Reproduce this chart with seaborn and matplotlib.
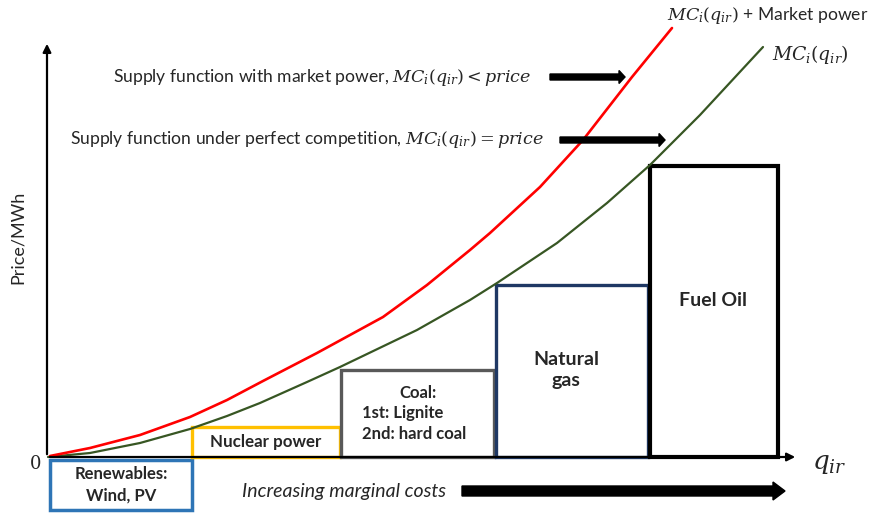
import matplotlib
matplotlib.use("Agg")
import matplotlib.pyplot as plt
import seaborn as sns
import pandas as pd

sns.set_theme(style="white")
plt.rcParams['font.family'] = ['Lato', 'DejaVu Sans']
plt.rcParams['mathtext.fontset'] = 'dejavuserif'

# Curves: quantity vs price (diagram units)
q_mc = [0, 42, 92, 142, 179, 212, 259, 292, 369, 422, 449, 509, 559, 602, 652, 715]
p_mc = [0, 4, 14, 28, 41, 54, 75, 90, 127, 157, 174, 214, 254, 292, 342, 410]
q_mp = [2, 42, 92, 142, 179, 215, 269, 335, 379, 422, 442, 492, 535, 584, 624]
p_mp = [1, 9, 22, 40, 57, 76, 104, 140, 172, 207, 224, 270, 317, 380, 429]

# Technology blocks
tech_names = ["Renewables:\nWind, PV", "Nuclear power", "Coal", "Natural\ngas", "Fuel Oil"]
tech_start = [2, 144, 293, 448, 602]
tech_end = [144, 292, 446, 600, 730]
tech_bottom = [-53, 0, 0, 0, 0]
tech_top = [-3, 30, 87, 172, 291]
tech_colors = ["#2e75b6", "#ffc000", "#595959", "#1f3864", "#000000"]
tech_lw = [2.5, 2.4, 2.4, 2.4, 3.0]

fig = plt.figure(figsize=(8.77, 5.13), dpi=100)
ax = fig.add_axes([0, 0, 1, 1])
ax.set_xlim(-48, 829)
ax.set_ylim(-56, 457)
ax.axis("off")

# blocks
for s, e, b, t, c, lw in zip(tech_start, tech_end, tech_bottom, tech_top, tech_colors, tech_lw):
    ax.bar(s, t - b, width=e - s, bottom=b, align="edge", facecolor="white",
           edgecolor=c, linewidth=lw, zorder=2)

# curves
df_mc = pd.DataFrame({"q": q_mc, "p": p_mc})
df_mp = pd.DataFrame({"q": q_mp, "p": p_mp})
sns.lineplot(data=df_mc, x="q", y="p", ax=ax, color="#375623", linewidth=1.6, sort=False, zorder=4)
sns.lineplot(data=df_mp, x="q", y="p", ax=ax, color="#ff0000", linewidth=1.9, sort=False, zorder=4)
for l in ax.lines:
    l.set_solid_joinstyle("round")
ax.set_xlabel("")
ax.set_ylabel("")

# axes arrows
ax.annotate("", xy=(-1, 416), xytext=(-1, 0),
            arrowprops=dict(arrowstyle="-|>", color="black", lw=1.6, mutation_scale=12), zorder=5)
ax.annotate("", xy=(750, 0), xytext=(-1, 0),
            arrowprops=dict(arrowstyle="-|>", color="black", lw=1.6, mutation_scale=12), zorder=5)

# thick arrows
def fat_arrow(x0, x1, y, w=5, hw=12, hl=8):
    ax.arrow(x0, y, x1 - x0 - hl, 0, width=w, head_width=hw, head_length=hl,
             length_includes_head=False, color="black", zorder=5)

fat_arrow(502, 577, 380, w=6, hw=13, hl=6)
fat_arrow(512, 617, 317, w=6, hw=13, hl=6)
fat_arrow(414, 737, -34, w=10, hw=18, hl=12)

fs = 12.6
ax.text(65, 380, r"Supply function with market power, $MC_i(q_{ir}) < price$",
        fontsize=fs, va="center", ha="left")
ax.text(22, 317, r"Supply function under perfect competition, $MC_i(q_{ir}) = price$",
        fontsize=fs, va="center", ha="left")
ax.text(619, 442, r"$MC_i(q_{ir})$ + Market power", fontsize=12.6, va="center", ha="left")
ax.text(724, 402, r"$MC_i(q_{ir})$", fontsize=13.5, va="center", ha="left")
ax.text(-30, 220, "Price/MWh", fontsize=13, rotation=90, va="center", ha="center")
ax.text(-12, -7, "0", fontsize=13, va="center", ha="center", family="DejaVu Serif")
ax.text(764, -7, r"$q_{ir}$", fontsize=19, va="center", ha="left")
ax.text(194, -34, "Increasing marginal costs", fontsize=14, style="italic", va="center", ha="left")

# block labels
bfs = 12
ax.text(73, -28, tech_names[0], fontsize=bfs, weight="bold", ha="center", va="center", linespacing=1.45)
ax.text(218, 15, tech_names[1], fontsize=12.2, weight="bold", ha="center", va="center")
ax.text(370, 64, "Coal:", fontsize=bfs, weight="bold", ha="center", va="center")
ax.text(314, 44, "1st: Lignite", fontsize=bfs, weight="bold", ha="left", va="center")
ax.text(314, 23, "2nd: hard coal", fontsize=bfs, weight="bold", ha="left", va="center")
ax.text(518, 87, tech_names[3], fontsize=14, weight="bold", ha="center", va="center", linespacing=1.3)
ax.text(665, 157, tech_names[4], fontsize=14, weight="bold", ha="center", va="center")

fig.savefig("out.png", dpi=100)
